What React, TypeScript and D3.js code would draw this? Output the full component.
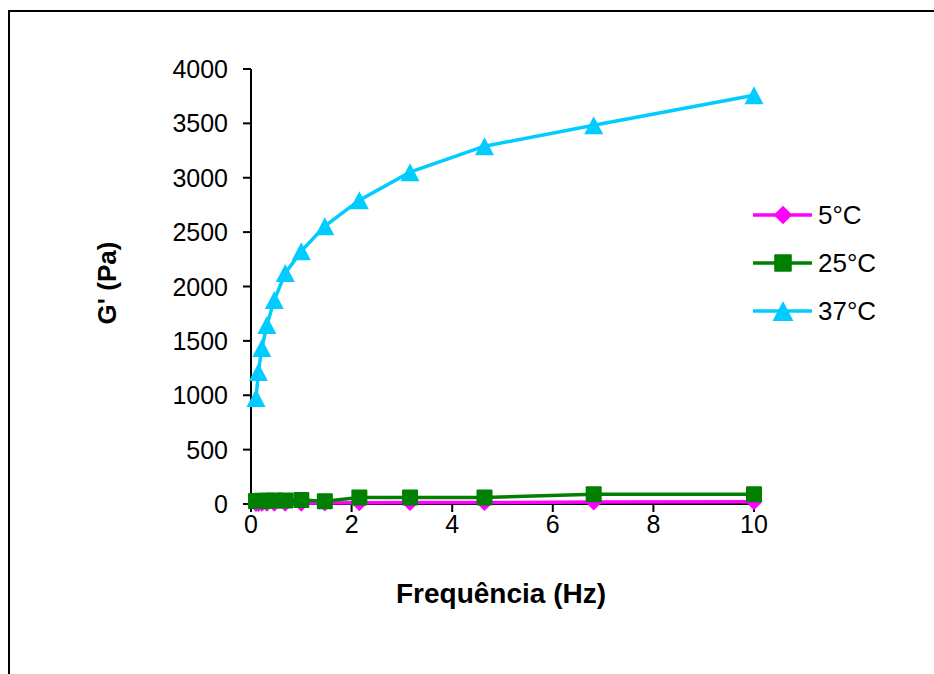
import React from "react";
import * as d3 from "d3";

const freqs = [0.1, 0.147, 0.215, 0.316, 0.464, 0.681, 1, 1.468, 2.154, 3.162, 4.642, 6.813, 10];
const g5 = [5, 5, 6, 6, 7, 8, 8, 9, 12, 13, 14, 18, 20];
const g25 = [28, 28, 30, 30, 32, 33, 37, 25, 60, 60, 60, 90, 90];
const g37 = [975, 1213, 1434, 1645, 1875, 2123, 2325, 2555, 2794, 3051, 3290, 3483, 3759];
const seriesNames = ["5°C", "25°C", "37°C"];
const seriesColors = ["#ff00ff", "#008000", "#00ccff"];
const xTicks = [0, 2, 4, 6, 8, 10];
const yTicks = [0, 500, 1000, 1500, 2000, 2500, 3000, 3500, 4000];

const font = "'Liberation Sans', Arial, sans-serif";

function Marker({ kind, x, y, color, scale = 1 }: { kind: number; x: number; y: number; color: string; scale?: number }) {
  if (kind === 0) {
    const r = 8.5 * scale;
    return <path d={`M${x},${y - r}L${x + r},${y}L${x},${y + r}L${x - r},${y}Z`} fill={color} />;
  }
  if (kind === 1) {
    const s = 8 * scale;
    return <rect x={x - s} y={y - s} width={2 * s} height={2 * s} rx={1} fill={color} />;
  }
  const w = 9.5 * scale, h = 9 * scale;
  return <path d={`M${x},${y - h}L${x + w},${y + h}L${x - w},${y + h}Z`} fill={color} />;
}

export default function App() {
  const x = d3.scaleLinear().domain([0, 10]).range([251, 754]);
  const y = d3.scaleLinear().domain([0, 4000]).range([504, 69]);
  const data = [g5, g25, g37];
  const line = d3
    .line<[number, number]>()
    .x((d) => x(d[0]))
    .y((d) => y(d[1]));

  return (
    <svg
      width={934}
      height={674}
      style={{ position: "absolute", left: 0, top: 0, background: "#fff" }}
      fontFamily={font}
    >
      <rect x={9} y={11} width={960} height={700} fill="none" stroke="#000" strokeWidth={2} />

      {/* axes */}
      <line x1={x(0)} x2={x(0)} y1={y(4000)} y2={y(0)} stroke="#000" strokeWidth={2} />
      <line x1={x(0)} x2={x(10)} y1={y(0)} y2={y(0)} stroke="#000" strokeWidth={2} />
      {yTicks.map((t) => (
        <g key={"y" + t}>
          <line x1={x(0) - 8} x2={x(0)} y1={y(t)} y2={y(t)} stroke="#000" strokeWidth={2} />
          <text x={228} y={y(t)} dy="0.36em" textAnchor="end" fontSize={25}>
            {t}
          </text>
        </g>
      ))}
      {xTicks.map((t) => (
        <g key={"x" + t}>
          <line x1={x(t)} x2={x(t)} y1={y(0)} y2={y(0) + 8} stroke="#000" strokeWidth={2} />
          <text x={x(t)} y={y(0) + 20} dy="0.36em" textAnchor="middle" fontSize={25}>
            {t}
          </text>
        </g>
      ))}

      {/* series */}
      {data.map((vals, si) => {
        const pts: [number, number][] = freqs.map((f, i) => [f, vals[i]]);
        return (
          <g key={"s" + si}>
            <path d={line(pts) || ""} fill="none" stroke={seriesColors[si]} strokeWidth={3.5} />
            {pts.map((p, i) => (
              <Marker key={i} kind={si} x={x(p[0])} y={y(p[1])} color={seriesColors[si]} />
            ))}
          </g>
        );
      })}

      {/* axis titles */}
      <text x={501} y={593} dy="0.36em" textAnchor="middle" fontSize={28} fontWeight="bold">
        Frequência (Hz)
      </text>
      <text
        transform={`translate(107,283) rotate(-90)`}
        dy="0.36em"
        textAnchor="middle"
        fontSize={26}
        fontWeight="bold"
      >
        G' (Pa)
      </text>

      {/* legend */}
      {seriesNames.map((n, i) => {
        const ly = 215 + i * 48;
        return (
          <g key={"l" + i}>
            <line x1={753} x2={812} y1={ly} y2={ly} stroke={seriesColors[i]} strokeWidth={3.5} />
            <Marker kind={i} x={783} y={ly} color={seriesColors[i]} scale={1.1} />
            <text x={818} y={ly} dy="0.36em" fontSize={26}>
              {n}
            </text>
          </g>
        );
      })}
    </svg>
  );
}
